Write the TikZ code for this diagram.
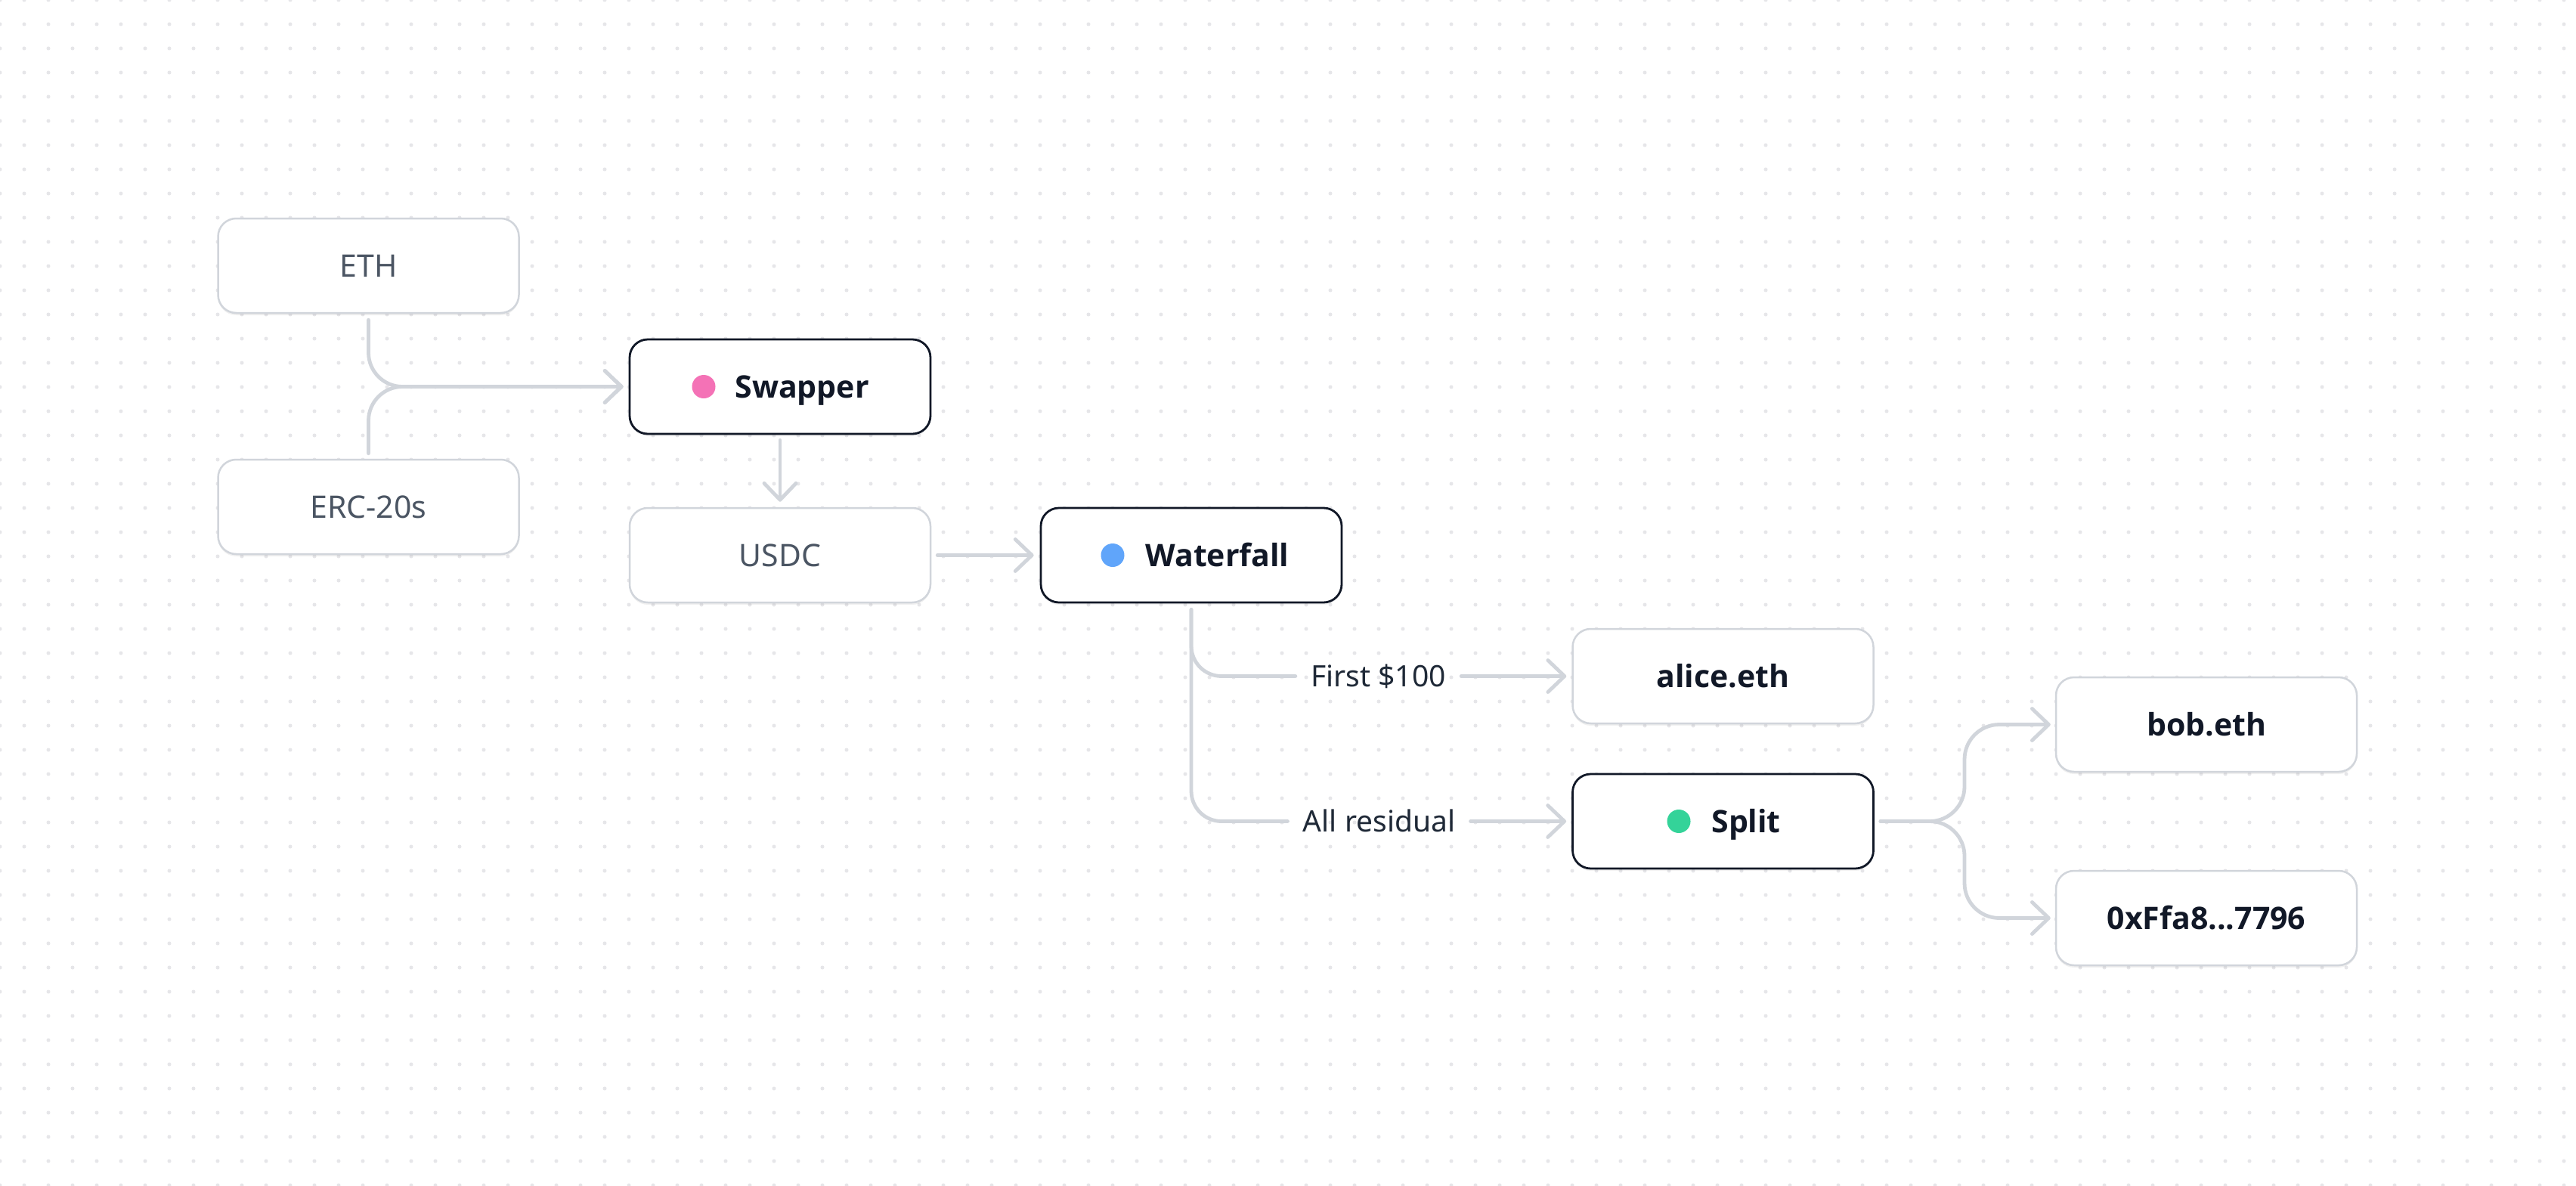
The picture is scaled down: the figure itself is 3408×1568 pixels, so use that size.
\documentclass[tikz,border=0pt]{standalone}
\usepackage{fontspec}
\setmainfont{Noto Sans}
\IfFontExistsTF{Noto Sans SemiBold}{\newfontfamily\semib{Noto Sans SemiBold}}{%
 \IfFontExistsTF{Noto Sans Bold}{\newfontfamily\semib{Noto Sans Bold}}{%
  \IfFontExistsTF{Open Sans SemiBold}{\newfontfamily\semib{Open Sans SemiBold}}{%
   \IfFontExistsTF{Open Sans Bold}{\newfontfamily\semib{Open Sans Bold}}{%
    \newfontfamily\semib{DejaVu Sans Bold}}}}}
\usetikzlibrary{arrows.meta,shadows}
\definecolor{connc}{HTML}{D1D5DB}
\definecolor{boxline}{HTML}{D1D5DB}
\definecolor{darkline}{HTML}{111827}
\definecolor{darktext}{HTML}{111827}
\definecolor{graytext}{HTML}{4B5563}
\definecolor{labtext}{HTML}{1F2937}
\definecolor{gridc}{HTML}{E6E6E9}
\definecolor{pinkc}{HTML}{F472B6}
\definecolor{bluec}{HTML}{60A5FA}
\definecolor{greenc}{HTML}{34D399}
\begin{document}
\begin{tikzpicture}[x=0.5pt,y=-0.5pt,
  box/.style={rounded corners=12pt, fill=white, minimum width=199pt, minimum height=62.5pt,
    inner sep=0pt, line width=1.25pt, text height=14.6pt, text depth=0pt,
    drop shadow={shadow xshift=0pt, shadow yshift=-1.5pt, opacity=0.06, fill=black}},
  lightbox/.style={box, draw=boxline, text=graytext, font=\fontsize{20.5pt}{24pt}\selectfont},
  darkbox/.style={box, draw=darkline, line width=1.4pt},
  namebox/.style={box, draw=boxline, text=darktext, font=\fontsize{20.5pt}{24pt}\semib},
  boldlab/.style={inner sep=0pt, text=darktext, font=\fontsize{20.5pt}{24pt}\semib,
    text height=14.6pt, text depth=0pt},
  dotc/.style={circle, minimum size=15.5pt, inner sep=0pt, fill=#1},
  lab/.style={inner xsep=10pt, inner ysep=0pt, text=labtext, font=\fontsize{19.5pt}{23pt}\selectfont,
    text height=13.9pt, text depth=0pt},
  conn/.style={draw=connc, line width=2.4pt, line cap=round, line join=round},
  arr/.style={conn, -{Straight Barb[length=11pt,width=21pt,round]}}
]
\useasboundingbox (0,0) rectangle (3408,1568);
\fill[white] (0,0) rectangle (3408,1568);
\foreach \i in {0,...,106} {
  \foreach \j in {0,...,49} {
    \fill[gridc] (\i*32,\j*32) circle (1.25pt);
  }
}
% boxes
\node[lightbox] (eth) at (487.5,351.5) {ETH};
\node[lightbox] (erc) at (487.5,670.5) {ERC-20s};
\node[darkbox] (sw) at (1032,511.5) {};
\node[dotc=pinkc] (swdot) at (931,511.5) {};
\node[boldlab, anchor=west] (swt) at (972,511.5) {Swapper};
\node[lightbox] (usdc) at (1032,734.5) {USDC};
\node[darkbox] (wf) at (1576,734.5) {};
\node[dotc=bluec] (wfdot) at (1472,734.5) {};
\node[boldlab, anchor=west] (wft) at (1515,734.5) {Waterfall};
\node[namebox] (alice) at (2279.5,894.5) {alice.eth};
\node[darkbox] (split) at (2279.5,1086.5) {};
\node[dotc=greenc] (spdot) at (2221,1086.5) {};
\node[boldlab, anchor=west] (spt) at (2264,1086.5) {Split};
\node[namebox] (bob) at (2919,958.5) {bob.eth};
\node[namebox] (addr) at (2919,1214.5) {0xFfa8...7796};
% labels
\node[lab] (l1) at (1823.5,894.5) {First \$100};
\node[lab] (l2) at (1824.5,1086.5) {All residual};
% connectors
\draw[arr, rounded corners=22.5pt] ([yshift=-4pt]eth.south) |- ([xshift=-3.5pt]sw.west);
\draw[arr, rounded corners=22.5pt] ([yshift=3.5pt]erc.north) |- ([xshift=-3.5pt]sw.west);
\draw[arr] ([yshift=-3.5pt]sw.south) -- ([yshift=3.5pt]usdc.north);
\draw[arr] ([xshift=4pt]usdc.east) -- ([xshift=-4pt]wf.west);
\draw[conn, rounded corners=20pt] ([yshift=-4pt]wf.south) |- (l1.west);
\draw[arr] (l1.east) -- ([xshift=-3.5pt]alice.west);
\draw[conn, rounded corners=20pt] ([yshift=-4pt]wf.south) |- (l2.west);
\draw[arr] (l2.east) -- ([xshift=-3.5pt]split.west);
\coordinate (fork) at (2599,1086.5);
\draw[arr, rounded corners=23pt] ([xshift=4pt]split.east) -- (fork) |- ([xshift=-3pt]bob.west);
\draw[arr, rounded corners=23pt] ([xshift=4pt]split.east) -- (fork) |- ([xshift=-3pt]addr.west);
\end{tikzpicture}
\end{document}
